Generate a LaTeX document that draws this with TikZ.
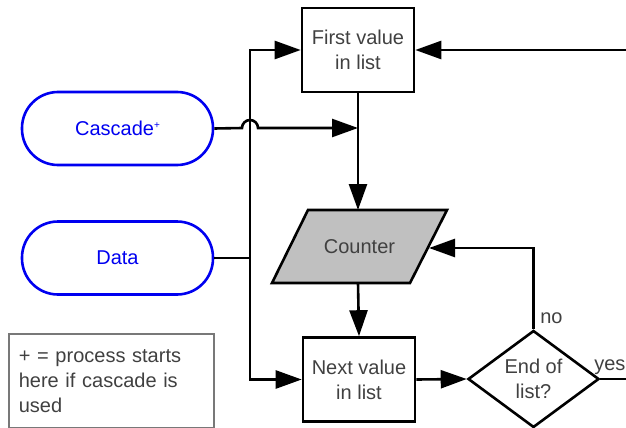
\documentclass[tikz,border=0pt]{standalone}
\usepackage{fontspec}
\setmainfont{Liberation Sans}
\usetikzlibrary{arrows.meta,shapes.geometric}
\definecolor{txtgray}{RGB}{64,64,64}
\definecolor{cntfill}{RGB}{192,192,192}
\definecolor{notegray}{RGB}{120,120,120}
\definecolor{termblue}{RGB}{0,0,240}
\begin{document}
\begin{tikzpicture}[x=1pt,y=-1pt,
  line width=2.6pt,
  every node/.style={font=\fontsize{20}{25}\selectfont, text=txtgray},
  procbox/.style={draw, minimum width=112pt, minimum height=84pt, align=center, inner sep=0pt},
  term/.style={draw=termblue, text=termblue, rounded corners=36pt, minimum width=191pt, minimum height=73pt, inner sep=0pt},
  decis/.style={draw, diamond, aspect=1.35, minimum width=131pt, minimum height=97pt, align=center, inner sep=0pt},
  notebox/.style={draw=notegray, line width=1.6pt, minimum width=205pt, minimum height=94pt, text width=185pt, align=left, inner xsep=10pt, inner ysep=0pt},
  arr/.style={-{Triangle[length=26pt,width=18pt]}},
  lbl/.style={inner sep=0pt, anchor=west}
]
\useasboundingbox (0,0) rectangle (626,428);

% nodes
\node[procbox] (first) at (358,50) {First value\\in list};
\node[procbox] (next) at (359,379.5) {Next value\\in list};
\node[term] (casc) at (117.5,128.5) {Cascade\raisebox{7pt}{\fontsize{10}{10}\selectfont +}};
\node[term] (data) at (117.5,258) {Data};
\node[decis] (dia) at (533.5,379) {End of\\list?};
\node[notebox, anchor=north west] (note) at (8,333) {+ = process starts\\here if cascade is\\used};

% counter parallelogram
\coordinate (cTL) at (308,210);
\coordinate (cTR) at (447,210);
\coordinate (cBR) at (410,283);
\coordinate (cBL) at (272,283);
\draw[fill=cntfill] (cTL) -- (cTR) -- (cBR) -- (cBL) -- cycle;
\node (counter) at (359.5,246.5) {Counter};
\coordinate (cTop) at (358,210);
\coordinate (cBot) at (358,283);
\coordinate (cRight) at (429,248);

% junctions
\coordinate (jData) at (250,258);
\coordinate (hopL) at (242,128);
\coordinate (cJoin) at (358,128);
\coordinate (topR) at (626,50);
\coordinate (yesEnd) at (626,379);

% connectors
\draw[arr] (topR) -- (first.east);
\draw (data.east) -- (jData);
\draw[arr] (jData) |- (first.west);
\draw[arr] (jData) |- (next.west);
\draw[arr] (casc.east) -- (hopL) arc[start angle=180, end angle=0, radius=8pt] -- (cJoin);
\draw[arr] (first.south) -- (cTop);
\draw[arr] (cBot) -- (next.north);
\draw[arr] (next.east) -- (dia.west);
\draw[arr] (dia.north) |- (cRight);
\draw (dia.east) -- (yesEnd);

% labels
\node[lbl] (nolbl) at (539,318) {no};
\node[lbl] (yeslbl) at (593,367) {yes};
\end{tikzpicture}
\end{document}
